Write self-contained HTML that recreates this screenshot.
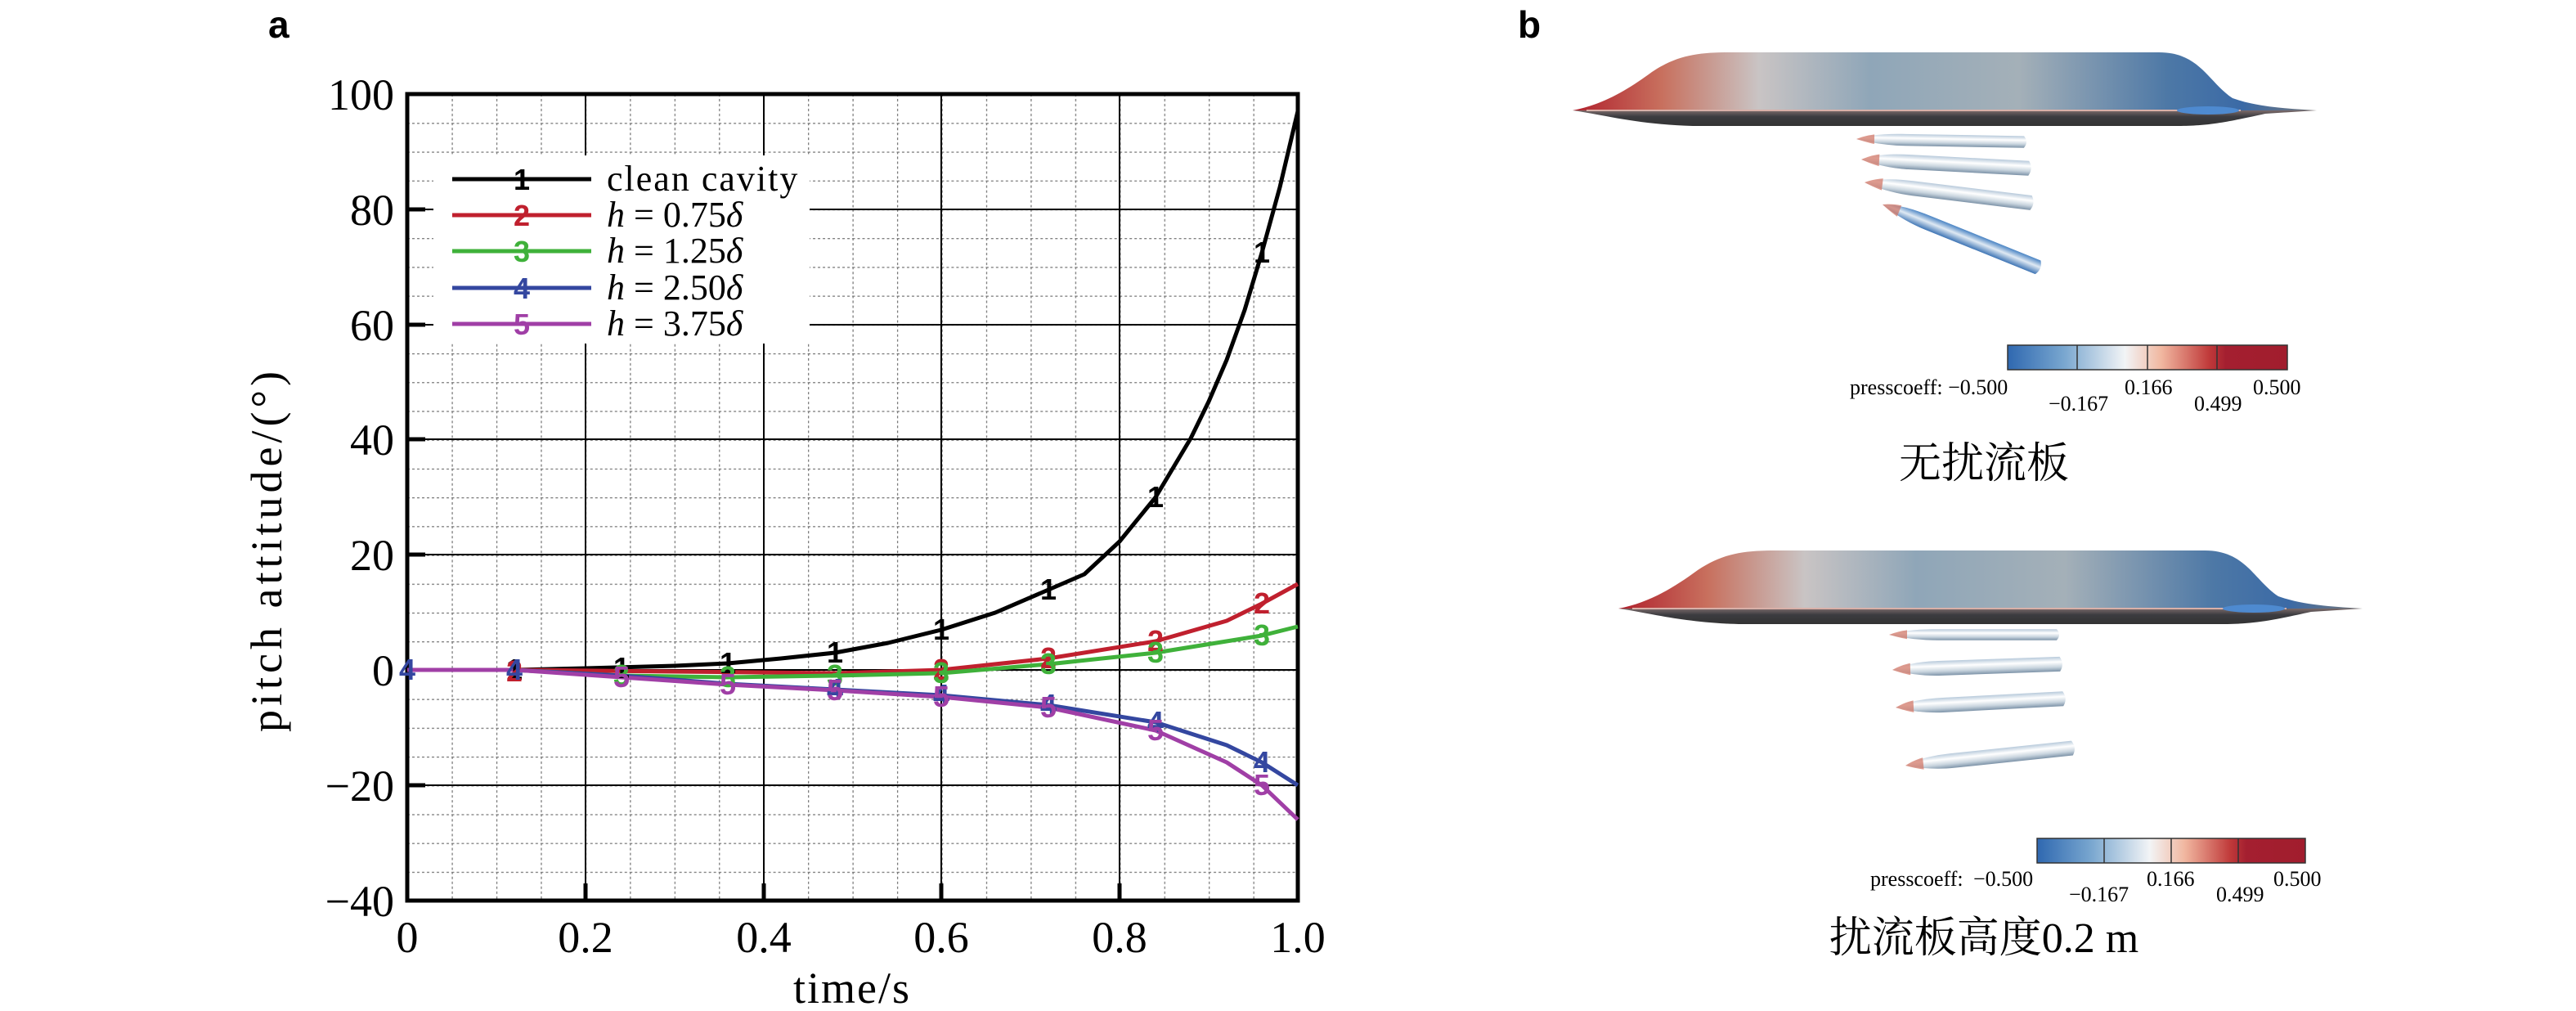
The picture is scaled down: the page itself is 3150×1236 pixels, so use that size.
<!DOCTYPE html>
<html><head><meta charset="utf-8"><style>
html,body{margin:0;padding:0;background:#fff;}
svg{display:block;}
.t{font-family:"Liberation Serif",serif;}
</style></head><body>
<svg width="3150" height="1236" viewBox="0 0 3150 1236" xmlns="http://www.w3.org/2000/svg">
<defs>
<pattern id="gx" patternUnits="userSpaceOnUse" x="498" y="115" width="54.45" height="35.215">
<line x1="0.5" y1="0" x2="0.5" y2="35.215" stroke="#777" stroke-width="1.5" stroke-dasharray="3,3"/>
<line x1="0" y1="0.5" x2="54.45" y2="0.5" stroke="#777" stroke-width="1.5" stroke-dasharray="3,3"/>
</pattern>
<linearGradient id="hullTop" x1="0" y1="0" x2="1" y2="0">
<stop offset="0" stop-color="#b0202c"/><stop offset="0.12" stop-color="#c8705e"/><stop offset="0.25" stop-color="#c9c4c4"/><stop offset="0.4" stop-color="#8fa6b8"/><stop offset="0.6" stop-color="#a4b0b8"/><stop offset="0.8" stop-color="#4d78a6"/><stop offset="0.9" stop-color="#3b6aa6"/><stop offset="1" stop-color="#777"/>
</linearGradient>
<linearGradient id="hullBot" x1="0" y1="0" x2="0" y2="1">
<stop offset="0" stop-color="#7a6a6a"/><stop offset="0.4" stop-color="#3c3c40"/><stop offset="1" stop-color="#333"/>
</linearGradient>
<linearGradient id="torp" x1="0" y1="0" x2="0" y2="1">
<stop offset="0" stop-color="#b8cadb"/><stop offset="0.35" stop-color="#ffffff"/><stop offset="0.7" stop-color="#c8d4de"/><stop offset="1" stop-color="#7d93a8"/>
</linearGradient>
<linearGradient id="torpB" x1="0" y1="0" x2="0" y2="1">
<stop offset="0" stop-color="#4a84c4"/><stop offset="0.45" stop-color="#dfe9f3"/><stop offset="1" stop-color="#3f75b5"/>
</linearGradient>
<linearGradient id="cb" x1="0" y1="0" x2="1" y2="0">
<stop offset="0" stop-color="#2f68b0"/><stop offset="0.2" stop-color="#78a6cf"/><stop offset="0.42" stop-color="#f2f4f6"/><stop offset="0.55" stop-color="#f1b7a0"/><stop offset="0.72" stop-color="#c03a3a"/><stop offset="0.78" stop-color="#a41f30"/><stop offset="1" stop-color="#a11d2d"/>
</linearGradient>
<g id="hull">
<path d="M1923,135 C1960,128 1990,110 2020,88 C2050,68 2075,64 2115,64 L2640,64 C2690,64 2700,100 2730,120 C2760,131 2800,133 2833,135 Z" fill="url(#hullTop)"/>
<path d="M1923,135 L2833,135 L2770,139 C2720,150 2700,154 2660,154 L2070,154 C2000,152 1960,140 1923,135 Z" fill="url(#hullBot)"/>
<line x1="1940" y1="135" x2="2740" y2="135" stroke="#d9b0a8" stroke-width="2"/>
<ellipse cx="2700" cy="135" rx="38" ry="5" fill="#4e8ad0"/>
</g>
<g id="tp">
<path d="M0,0 C20,-8 40,-9 60,-9 L205,-9 Q211,0 205,9 L60,9 C40,9 20,6 0,0 Z" fill="url(#torp)"/>
<path d="M0,0 C8,-4 14,-6 22,-7.5 L22,7 C14,5 8,3 0,0 Z" fill="#d07060" opacity="0.7"/>
</g>
<g id="tpb">
<path d="M0,0 C20,-8 40,-9 60,-9 L205,-9 Q211,0 205,9 L60,9 C40,9 20,6 0,0 Z" fill="url(#torpB)"/>
<path d="M0,0 C8,-4 14,-6 22,-7.5 L22,7 C14,5 8,3 0,0 Z" fill="#d07060" opacity="0.7"/>
</g>
</defs>

<!-- Panel a -->
<text x="328" y="46" font-family="Liberation Sans,sans-serif" font-weight="bold" font-size="46">a</text>
<rect x="498" y="115" width="1089" height="986" fill="url(#gx)"/>
<g stroke="#000" stroke-width="2">
<line x1="716" y1="115" x2="716" y2="1101"/><line x1="934" y1="115" x2="934" y2="1101"/><line x1="1151" y1="115" x2="1151" y2="1101"/><line x1="1369" y1="115" x2="1369" y2="1101"/>
<line x1="498" y1="256" x2="1587" y2="256"/><line x1="498" y1="397" x2="1587" y2="397"/><line x1="498" y1="537" x2="1587" y2="537"/><line x1="498" y1="678" x2="1587" y2="678"/><line x1="498" y1="819" x2="1587" y2="819"/><line x1="498" y1="960" x2="1587" y2="960"/>
</g>
<g stroke="#000" stroke-width="5">
<line x1="716" y1="1101" x2="716" y2="1080"/><line x1="934" y1="1101" x2="934" y2="1080"/><line x1="1151" y1="1101" x2="1151" y2="1080"/><line x1="1369" y1="1101" x2="1369" y2="1080"/>
<line x1="498" y1="256" x2="520" y2="256"/><line x1="498" y1="397" x2="520" y2="397"/><line x1="498" y1="537" x2="520" y2="537"/><line x1="498" y1="678" x2="520" y2="678"/><line x1="498" y1="819" x2="520" y2="819"/><line x1="498" y1="960" x2="520" y2="960"/>
</g>
<rect x="498" y="115" width="1089" height="986" fill="none" stroke="#000" stroke-width="5"/>
<rect x="530" y="190" width="460" height="230" fill="#fff"/>
<g fill="none" stroke-width="5" stroke-linejoin="round">
<polyline stroke="#000" points="498,819 629,819 716,817 825,814 890,811 955,805 1021,798 1086,786 1151,770 1217,749 1282,721 1326,702 1369,662 1413,608 1456,536 1478,491 1500,440 1522,379 1543,309 1565,229 1587,136"/>
<polyline stroke="#c0202e" points="498,819 629,819 825,821 1021,823 1151,819 1282,805 1413,784 1500,759 1543,738 1587,714"/>
<polyline stroke="#3fb13a" points="498,819 629,819 760,826 890,828 1021,826 1151,823 1282,812 1413,798 1543,777 1587,766"/>
<polyline stroke="#3447a0" points="498,819 629,819 760,826 890,836 1021,843 1151,850 1282,862 1413,883 1500,911 1543,932 1587,960"/>
<polyline stroke="#a03fa6" points="498,819 629,819 760,828 890,837 1021,844 1151,852 1282,865 1413,893 1500,932 1543,960 1587,1002"/>
</g>
<g font-family="Liberation Sans,sans-serif" font-weight="bold" font-size="36" text-anchor="middle">
<g fill="#000"><text x="629" y="831">1</text><text x="760" y="829">1</text><text x="890" y="823">1</text><text x="1021" y="810">1</text><text x="1151" y="782">1</text><text x="1282" y="733">1</text><text x="1413" y="620">1</text><text x="1543" y="321">1</text></g>
<g fill="#c0202e"><text x="629" y="833">2</text><text x="1151" y="831">2</text><text x="1282" y="817">2</text><text x="1413" y="796">2</text><text x="1543" y="750">2</text></g>
<g fill="#3fb13a"><text x="760" y="838">3</text><text x="890" y="840">3</text><text x="1021" y="838">3</text><text x="1151" y="835">3</text><text x="1282" y="824">3</text><text x="1413" y="810">3</text><text x="1543" y="789">3</text></g>
<g fill="#3447a0"><text x="498" y="831">4</text><text x="629" y="831">4</text><text x="1021" y="855">4</text><text x="1151" y="862">4</text><text x="1282" y="874">4</text><text x="1413" y="895">4</text><text x="1543" y="944">4</text></g>
<g fill="#a03fa6"><text x="760" y="840">5</text><text x="890" y="849">5</text><text x="1021" y="856">5</text><text x="1151" y="864">5</text><text x="1282" y="877">5</text><text x="1413" y="905">5</text><text x="1543" y="972">5</text></g>
</g>
<g stroke-width="5">
<line x1="553" y1="219" x2="723" y2="219" stroke="#000"/>
<line x1="553" y1="263" x2="723" y2="263" stroke="#c0202e"/>
<line x1="553" y1="307" x2="723" y2="307" stroke="#3fb13a"/>
<line x1="553" y1="352" x2="723" y2="352" stroke="#3447a0"/>
<line x1="553" y1="396" x2="723" y2="396" stroke="#a03fa6"/>
</g>
<g font-family="Liberation Sans,sans-serif" font-weight="bold" font-size="36" text-anchor="middle">
<text x="638" y="232" fill="#000">1</text><text x="638" y="276" fill="#c0202e">2</text><text x="638" y="320" fill="#3fb13a">3</text><text x="638" y="365" fill="#3447a0">4</text><text x="638" y="409" fill="#a03fa6">5</text>
</g>
<g class="t" font-size="44">
<text x="742" y="233" letter-spacing="2">clean cavity</text>
<text x="742" y="277"><tspan font-style="italic">h</tspan> = 0.75<tspan font-style="italic">δ</tspan></text>
<text x="742" y="321"><tspan font-style="italic">h</tspan> = 1.25<tspan font-style="italic">δ</tspan></text>
<text x="742" y="366"><tspan font-style="italic">h</tspan> = 2.50<tspan font-style="italic">δ</tspan></text>
<text x="742" y="410"><tspan font-style="italic">h</tspan> = 3.75<tspan font-style="italic">δ</tspan></text>
</g>
<g class="t" font-size="54" text-anchor="end">
<text x="482" y="134">100</text><text x="482" y="275">80</text><text x="482" y="416">60</text><text x="482" y="556">40</text><text x="482" y="697">20</text><text x="482" y="838">0</text><text x="482" y="979">−20</text><text x="482" y="1120">−40</text>
</g>
<g class="t" font-size="54" text-anchor="middle">
<text x="498" y="1164">0</text><text x="716" y="1164">0.2</text><text x="934" y="1164">0.4</text><text x="1151" y="1164">0.6</text><text x="1369" y="1164">0.8</text><text x="1587" y="1164">1.0</text>
<text x="1042" y="1226" letter-spacing="2">time/s</text>
</g>
<text class="t" font-size="54" letter-spacing="5" text-anchor="middle" transform="translate(344,672) rotate(-90)">pitch attitude/(°)</text>

<!-- Panel b -->
<text x="1856" y="46" font-family="Liberation Sans,sans-serif" font-weight="bold" font-size="46">b</text>
<use href="#hull"/>
<g transform="translate(2270,170) rotate(1)"><use href="#tp" transform="scale(1,0.8)"/></g>
<g transform="translate(2276,195) rotate(3)"><use href="#tp"/></g>
<g transform="translate(2280,223) rotate(7)"><use href="#tp"/></g>
<g transform="translate(2302,250) rotate(22)"><use href="#tpb"/></g>
<rect x="2455" y="422" width="342" height="30" fill="url(#cb)" stroke="#333" stroke-width="1.5"/>
<g stroke="#333" stroke-width="1.5"><line x1="2540" y1="422" x2="2540" y2="452"/><line x1="2626" y1="422" x2="2626" y2="452"/><line x1="2711" y1="422" x2="2711" y2="452"/></g>
<g class="t" font-size="26">
<text x="2262" y="482">presscoeff: −0.500</text>
<text x="2505" y="502">−0.167</text><text x="2598" y="482">0.166</text><text x="2683" y="502">0.499</text><text x="2755" y="482">0.500</text>
</g>
<text x="2426" y="584" text-anchor="middle" font-family="Liberation Serif,'Noto Serif CJK SC',serif" font-size="52">无扰流板</text>

<use href="#hull" transform="translate(56,609)"/>
<g transform="translate(2310,776) rotate(0)"><use href="#tp" transform="scale(1,0.75)"/></g>
<g transform="translate(2314,819) rotate(-2)"><use href="#tp"/></g>
<g transform="translate(2318,865) rotate(-3)"><use href="#tp"/></g>
<g transform="translate(2330,936) rotate(-6)"><use href="#tp"/></g>
<rect x="2491" y="1025" width="328" height="30" fill="url(#cb)" stroke="#333" stroke-width="1.5"/>
<g stroke="#333" stroke-width="1.5"><line x1="2573" y1="1025" x2="2573" y2="1055"/><line x1="2655" y1="1025" x2="2655" y2="1055"/><line x1="2737" y1="1025" x2="2737" y2="1055"/></g>
<g class="t" font-size="26">
<text x="2287" y="1083">presscoeff:</text><text x="2413" y="1083">−0.500</text>
<text x="2530" y="1102">−0.167</text><text x="2625" y="1083">0.166</text><text x="2710" y="1102">0.499</text><text x="2780" y="1083">0.500</text>
</g>
<text x="2426" y="1164" text-anchor="middle" font-family="Liberation Serif,'Noto Serif CJK SC',serif" font-size="52">扰流板高度0.2 m</text>
</svg>
</body></html>
